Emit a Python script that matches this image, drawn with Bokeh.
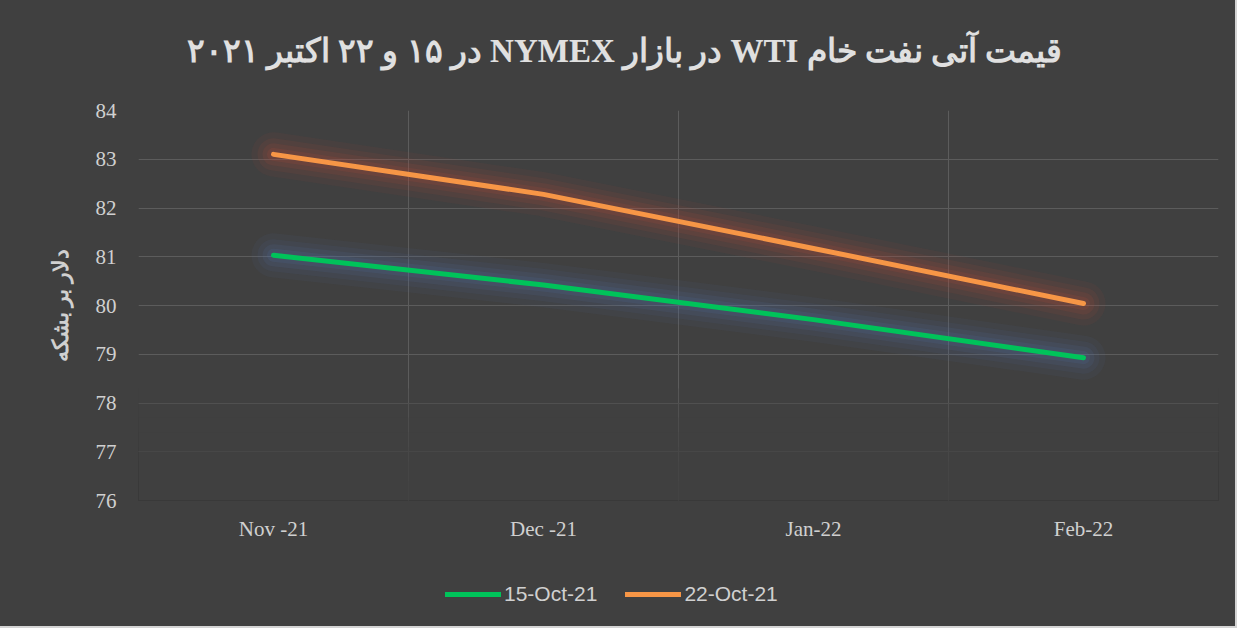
from bokeh.plotting import figure
from bokeh.layouts import column
from bokeh.models import (FactorRange, Range1d, FixedTicker, Legend, LegendItem,
                          Label, BoxAnnotation)
from bokeh.embed import file_html
from bokeh.resources import INLINE

# ---- data ----
months = ["Nov -21", "Dec -21", "Jan-22", "Feb-22"]
oct15 = [81.03, 80.42, 79.71, 78.93]
oct22 = [83.10, 82.28, 81.17, 80.04]
y_ticks = [76, 77, 78, 79, 80, 81, 82, 83, 84]
series_names = ["15-Oct-21", "22-Oct-21"]
series_colors = ["#00c35a", "#f79646"]
glow_colors = ["#4f73a8", "#b84a3c"]
title_text = "قیمت آتی نفت خام WTI در بازار NYMEX در ۱۵ و ۲۲ اکتبر ۲۰۲۱"
y_label = "دلار بر بشکه"

BG = "#404040"
TXT = "#d0d0d0"
FRAME_W = 1080
BORDERS = dict(min_border_left=138, min_border_right=17)

def strip(h, **kw):
    f = figure(frame_width=FRAME_W, frame_height=h,
               x_axis_type=None, y_axis_type=None,
               output_backend="svg", toolbar_location=None,
               min_border_top=0, min_border_bottom=0, **BORDERS,
               background_fill_color=BG, border_fill_color=BG,
               outline_line_color=None, **kw)
    f.grid.visible = False
    return f

# ---- title strip ----
h = strip(100, x_range=Range1d(0, 1), y_range=Range1d(0, 1))
h.add_layout(Label(x=0.45, y=0.5, text="\u202b" + title_text + "\u202c",
                   text_align="center", text_baseline="middle",
                   text_font="Liberation Serif", text_font_style="bold",
                   text_font_size="33px", text_color="#e0e0e0"))

# ---- main chart ----
p = figure(frame_width=FRAME_W, frame_height=390,
           x_range=FactorRange(*months), y_range=Range1d(76, 84),
           output_backend="svg", toolbar_location=None, **BORDERS,
           min_border_top=10, min_border_bottom=60,
           background_fill_color=BG, border_fill_color=BG,
           outline_line_color=None)

for ax in (p.xaxis, p.yaxis):
    ax.axis_line_color = None
    ax.major_tick_line_color = None
    ax.minor_tick_line_color = None
    ax.major_label_text_font = "Liberation Serif"
    ax.major_label_text_font_size = "21px"
    ax.major_label_text_color = TXT
p.xaxis.major_label_standoff = 10
p.yaxis.major_label_standoff = 16
p.yaxis.ticker = FixedTicker(ticks=y_ticks)
p.yaxis.axis_label = y_label
p.yaxis.axis_label_text_font = "Liberation Serif"
p.yaxis.axis_label_text_font_style = "bold"
p.yaxis.axis_label_text_font_size = "22px"
p.yaxis.axis_label_text_color = TXT
p.yaxis.axis_label_standoff = 20

p.ygrid.ticker = FixedTicker(ticks=y_ticks)
p.ygrid.grid_line_color = "#5c5c5c"
p.xgrid.ticker = FixedTicker(ticks=[0, 1, 2, 3, 4])
p.xgrid.grid_line_color = "#5c5c5c"

# fade of the grid near the bottom of the plot area
for t in (78.3, 78.0, 77.7, 77.4, 77.1, 76.8, 76.4):
    p.add_layout(BoxAnnotation(bottom=76, top=t, fill_color=BG, fill_alpha=0.22,
                               line_color=None, level="underlay"))

# glow layers + main lines
for vals, glow in ((oct15, glow_colors[0]), (oct22, glow_colors[1])):
    for w, a in ((44, 0.07), (32, 0.09), (22, 0.12), (13, 0.15)):
        p.line(months, vals, line_color=glow, line_width=w, line_alpha=a,
               line_cap="round", line_join="round")
for vals, col in ((oct15, series_colors[0]), (oct22, series_colors[1])):
    p.line(months, vals, line_color=col, line_width=5,
           line_cap="round", line_join="round")

# ---- legend strip ----
q = strip(66, x_range=FactorRange(*months), y_range=Range1d(76, 84))
items = []
for name, vals, col in zip(series_names, (oct15, oct22), series_colors):
    r = q.line(months, vals, line_color=col, line_width=5, line_cap="round",
               visible=False)
    items.append(LegendItem(label=name, renderers=[r]))
legend = Legend(items=items, orientation="horizontal", location=(307, 20),
                background_fill_alpha=0, border_line_color=None,
                inactive_fill_alpha=0,
                label_text_font="Liberation Sans",
                label_text_font_size="21px", label_text_color=TXT,
                glyph_width=56, glyph_height=20, label_standoff=3,
                spacing=28, padding=0, margin=0)
q.add_layout(legend, "center")

layout = column(h, p, q, spacing=0,
                styles={"background-color": BG, "outline": "2px solid #d4d4d4"})

open("out.html", "w").write(file_html(layout, INLINE))
